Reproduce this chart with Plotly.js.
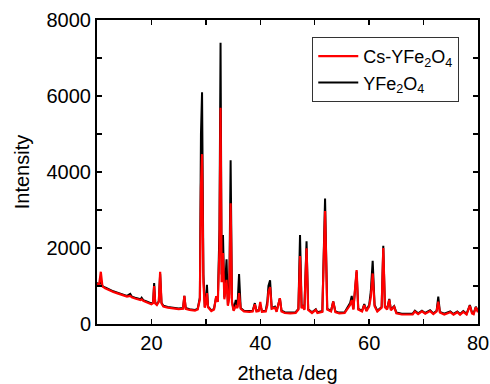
<!DOCTYPE html>
<html>
<head>
<meta charset="utf-8">
<script src="https://cdn.plot.ly/plotly-3.0.1.min.js"></script>
<style>html,body{margin:0;padding:0;background:#fff;}#chart{width:490px;height:384px;}</style>
</head>
<body>
<div id="chart"></div>
<script>
const twoTheta = [10.0, 10.4, 10.7, 11.0, 11.5, 12.0, 12.5, 13.0, 13.5, 14.0,
  14.5, 15.0, 15.5, 16.1, 16.4, 17.0, 17.5, 18.0, 18.2, 18.5,
  19.0, 19.5, 20.0, 20.3, 20.5, 20.7, 21.0, 21.35, 21.6, 21.85,
  22.2, 23.0, 24.0, 25.0, 25.8, 26.05, 26.3, 27.0, 28.0, 28.5,
  28.9, 29.1, 29.3, 29.55, 29.8, 30.0, 30.2, 30.4, 31.0, 31.5,
  31.9, 32.2, 32.5, 32.7, 32.9, 33.15, 33.4, 33.8, 34.05, 34.3,
  34.55, 34.8, 35.1, 35.5, 35.8, 36.1, 36.4, 37.0, 38.0, 38.6,
  39.0, 39.3, 39.7, 40.0, 40.3, 41.0, 41.3, 41.5, 41.8, 42.1,
  42.7, 43.0, 43.6, 43.9, 44.5, 45.5, 46.5, 47.0, 47.3, 47.6,
  47.8, 48.1, 48.5, 48.8, 49.5, 50.2, 50.5, 51.4, 51.9, 52.3,
  53.0, 53.4, 53.8, 54.5, 55.5, 56.0, 56.5, 56.8, 57.1, 57.7,
  58.0, 58.7, 59.1, 59.5, 60.0, 60.3, 60.65, 61.0, 61.5, 62.3,
  62.6, 62.9, 63.3, 63.7, 64.0, 64.6, 65.0, 66.0, 67.0, 68.0,
  68.4, 69.0, 69.7, 70.3, 71.2, 71.8, 72.4, 72.7, 73.0, 73.8,
  74.9, 75.5, 76.2, 76.7, 77.3, 77.9, 78.5, 78.9, 79.2, 79.6,
  80.0];

const yfe2o4 = [1080, 1050, 1090, 1000, 960, 920, 890, 860, 840, 810,
  790, 760, 740, 790, 720, 690, 670, 650, 690, 630,
  600, 570, 540, 570, 1080, 560, 520, 600, 1320, 560,
  480, 450, 430, 410, 420, 740, 420, 390, 370, 400,
  700, 5000, 6100, 1300, 450, 600, 1030, 460, 360, 400,
  720, 600, 2500, 7400, 1300, 2340, 700, 1700, 500, 800,
  4310, 600, 370, 630, 450, 1315, 420, 350, 340, 350,
  550, 350, 360, 500, 340, 350, 600, 1000, 1150, 420,
  460, 340, 680, 350, 310, 300, 310, 400, 2340, 430,
  500, 390, 2180, 390, 310, 390, 310, 340, 3300, 400,
  350, 590, 330, 300, 310, 420, 550, 740, 400, 1380,
  400, 350, 525, 360, 500, 850, 1665, 500, 350, 450,
  2060, 460, 400, 660, 380, 470, 300, 270, 265, 275,
  350, 280, 350, 290, 360, 280, 350, 720, 320, 270,
  330, 265, 330, 265, 340, 270, 500, 300, 280, 455,
  330];

const csYfe2o4 = [1060, 1040, 1375, 990, 940, 900, 870, 840, 820, 790,
  770, 740, 720, 740, 700, 670, 650, 630, 650, 610,
  580, 550, 520, 550, 1000, 540, 500, 580, 1375, 540,
  460, 430, 410, 390, 400, 740, 400, 370, 350, 380,
  650, 3600, 4470, 1100, 430, 550, 815, 440, 340, 380,
  730, 580, 2000, 5690, 1100, 1870, 650, 1160, 480, 700,
  3180, 560, 350, 470, 420, 815, 400, 330, 320, 330,
  520, 330, 340, 580, 320, 330, 500, 850, 970, 400,
  430, 320, 680, 330, 290, 280, 290, 380, 1790, 410,
  480, 370, 1990, 370, 290, 370, 290, 320, 2970, 380,
  330, 590, 310, 280, 290, 400, 500, 630, 380, 1420,
  380, 330, 500, 340, 460, 700, 1330, 470, 330, 430,
  2000, 440, 380, 640, 360, 450, 280, 250, 245, 255,
  330, 260, 330, 270, 340, 260, 330, 590, 300, 250,
  310, 245, 310, 245, 320, 250, 480, 280, 260, 440,
  310];

const seriesNames = ['YFe<sub>2</sub>O<sub>4</sub>', 'Cs-YFe<sub>2</sub>O<sub>4</sub>'];
const xTicks = [20, 40, 60, 80];
const yTicks = [0, 2000, 4000, 6000, 8000];

const font = 'Liberation Sans, Arial, sans-serif';

const traces = [
  {x: twoTheta, y: yfe2o4, name: seriesNames[0], type: 'scatter', mode: 'lines',
   line: {color: '#000000', width: 2}},
  {x: twoTheta, y: csYfe2o4, name: seriesNames[1], type: 'scatter', mode: 'lines',
   line: {color: '#ff0000', width: 2.2}}
];

const axisCommon = {
  showline: true, linecolor: '#000', linewidth: 2, mirror: 'allticks',
  ticks: 'inside', ticklen: 5, tickwidth: 1.5, tickcolor: '#000',
  showgrid: false, zeroline: false,
  tickfont: {family: font, size: 20, color: '#000'}
};

const layout = {
  width: 490, height: 384,
  margin: {l: 97, r: 12, t: 20, b: 60, pad: 0},
  paper_bgcolor: '#fff', plot_bgcolor: '#fff',
  showlegend: true,
  legend: {
    x: 0.565, y: 0.944, xanchor: 'left', yanchor: 'top',
    traceorder: 'reversed', itemwidth: 40, tracegroupgap: 0,
    bgcolor: '#fff', bordercolor: '#333', borderwidth: 1,
    font: {family: font, size: 18, color: '#000'}
  },
  xaxis: Object.assign({}, axisCommon, {
    range: [10, 80], tickvals: xTicks, ticktext: xTicks.map(String),
    minor: {tickvals: [10, 30, 50, 70], ticks: 'inside', ticklen: 5, tickwidth: 1.5, tickcolor: '#000'},
    title: {text: '2theta /deg', font: {family: font, size: 20, color: '#000'}, standoff: 14}
  }),
  yaxis: Object.assign({}, axisCommon, {
    range: [0, 8000], tickvals: yTicks, ticktext: yTicks.map(String),
    minor: {tickvals: [1000, 3000, 5000, 7000], ticks: 'inside', ticklen: 5, tickwidth: 1.5, tickcolor: '#000'},
    title: {text: 'Intensity', font: {family: font, size: 20, color: '#000'}, standoff: 12}
  })
};

Plotly.newPlot('chart', traces, layout, {staticPlot: true, displayModeBar: false});
</script>
</body>
</html>
